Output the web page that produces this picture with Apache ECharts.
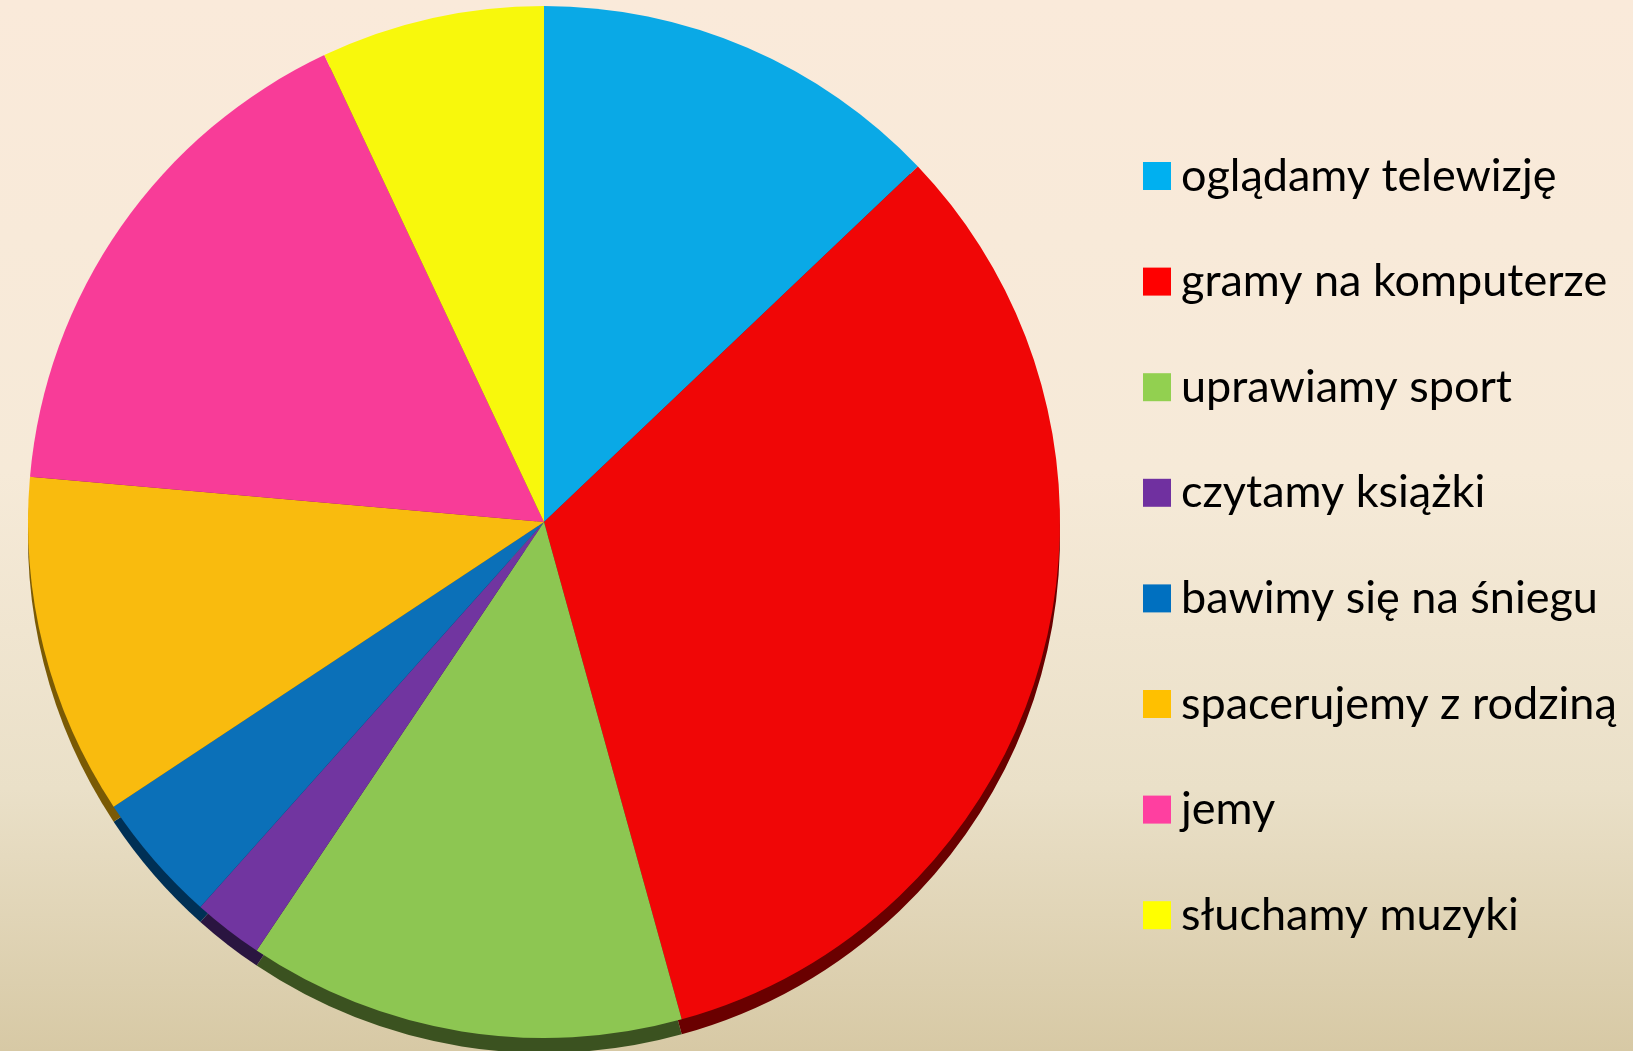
<!DOCTYPE html>
<html>
<head>
<meta charset="utf-8">
<script src="https://cdn.jsdelivr.net/npm/echarts@6/dist/echarts.min.js"></script>
<style>
html,body{margin:0;padding:0;width:1633px;height:1051px;overflow:hidden;}
#c{width:1633px;height:1051px;background:linear-gradient(to bottom,#FAEADA 0%,#F6EAD8 45%,#EAE0C8 75%,#D7C9A5 100%);}
</style>
</head>
<body>
<div id="c"></div>
<script>
const categories = ['oglądamy telewizję','gramy na komputerze','uprawiamy sport','czytamy książki','bawimy się na śniegu','spacerujemy z rodziną','jemy','słuchamy muzyki'];
const values = [12.9, 32.8, 13.7, 2.2, 4.1, 10.7, 16.6, 7.0];
const sliceColors = ['#0AA9E6','#F00606','#8DC652','#7135A0','#0B70B8','#F9BB0E','#F83C98','#F8F80C'];
const rimColors = ['#05506E','#6A0000','#3B5220','#2A1540','#003055','#7A5A05','#7A1A4A','#7A7A05'];
const legendColors = ['#00B0F0','#FF0000','#92D050','#7030A0','#0070C0','#FFC000','#FF3FA0','#FFFF00'];

const chart = echarts.init(document.getElementById('c'), null, {renderer:'canvas'});
const mainData = categories.map((n,i)=>({name:n,value:values[i],itemStyle:{color:sliceColors[i]}}));
const rimData = categories.map((n,i)=>({name:n,value:values[i],itemStyle:{color:rimColors[i]}}));
chart.setOption({
  animation:false,
  legend:{
    orient:'vertical',
    left:1138,
    top:146,
    itemWidth:28,
    itemHeight:28,
    itemGap:55.6,
    icon:'rect',
    data:categories.map((n,i)=>({name:n,itemStyle:{color:legendColors[i]}})),
    textStyle:{fontFamily:'Lato',fontSize:45,color:'#000',lineHeight:50,padding:[0,0,0,5]}
  },
  series:[
    {
      type:'pie',
      z:1,
      center:[544,537],
      radius:516,
      startAngle:90,
      clockwise:true,
      label:{show:false},
      labelLine:{show:false},
      silent:true,
      itemStyle:{borderWidth:0},
      data:rimData
    },
    {
      type:'pie',
      z:2,
      center:[544,522],
      radius:516,
      startAngle:90,
      clockwise:true,
      label:{show:false},
      labelLine:{show:false},
      itemStyle:{borderWidth:0},
      emphasis:{disabled:true},
      data:mainData
    }
  ]
});
</script>
</body>
</html>
